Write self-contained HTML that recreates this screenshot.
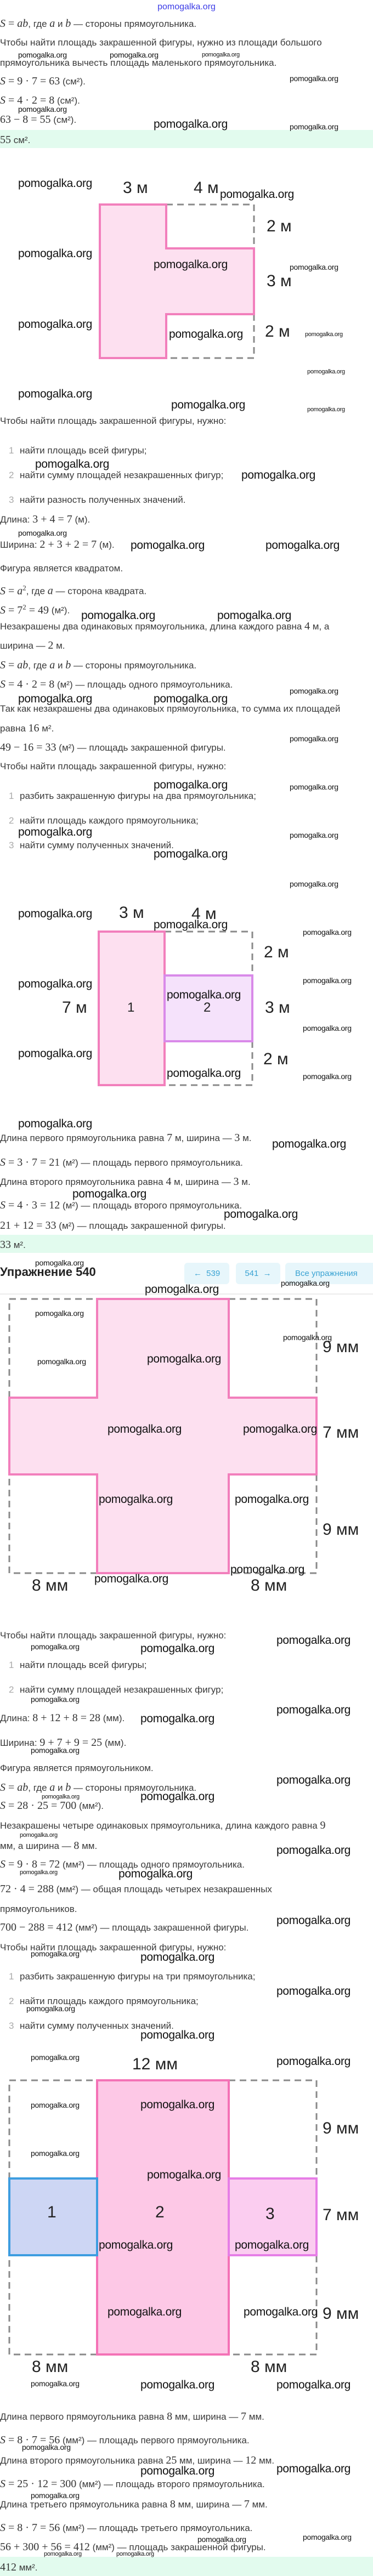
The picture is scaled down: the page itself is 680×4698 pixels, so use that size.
<!DOCTYPE html>
<html><head><meta charset="utf-8"><style>
html,body{margin:0;padding:0;background:#fff}
body{width:680px;height:4698px;position:relative;overflow:hidden;font-family:"Liberation Sans",sans-serif;color:#333}
.t{position:absolute;left:0;white-space:nowrap;font-size:17px;line-height:22px;color:#3a3a3a}
.m{font-family:"Liberation Serif",serif;font-size:20px;color:#333}
.m i{font-style:italic}
.n{display:inline-block;width:36px;padding-left:16px;box-sizing:border-box;color:#aaa}
.b,.s,.y{position:absolute;white-space:nowrap;color:#111;font-family:"Liberation Sans",sans-serif;letter-spacing:-0.3px}
.b{font-size:21px;line-height:26px}
.s{font-size:14px;line-height:18px}
.y{font-size:11px;line-height:14px}
.L{position:absolute;white-space:nowrap;font-size:30px;line-height:36px;color:#222;font-family:"Liberation Sans",sans-serif}
.band{position:absolute;left:0;width:680px;background:#e2fbee}
.btn{position:absolute;top:2303px;height:39px;background:#e7f6fb;border-radius:6px;color:#3aa3d3;font-size:15px;line-height:39px;text-align:center}
svg{position:absolute;left:0;top:0}
</style></head><body>
<svg width="680" height="4698" viewBox="0 0 680 4698">
<g fill="none" stroke="#8a8a8a" stroke-width="3" stroke-dasharray="12 8">
<path d="M303 373H463V453M463 573V653H303"/>
<path d="M300 1699H460V1779M460 1899V1979H300"/>
<rect x="17" y="2369" width="560" height="500"/>
<rect x="17" y="3794" width="560" height="500"/>
</g>
<path d="M182 373H303V453H463V573H303V653H182Z" fill="#fde0f0" stroke="#f27fbc" stroke-width="4"/>
<rect x="180" y="1699" width="120" height="280" fill="#fde0f0" stroke="#f27fbc" stroke-width="4"/>
<rect x="300" y="1779" width="160" height="120" fill="#f5e2fb" stroke="#d98ae9" stroke-width="4"/>
<path d="M177 2369H417V2549H577V2689H417V2869H177V2689H17V2549H177Z" fill="#fde0f0" stroke="#f27fbc" stroke-width="4"/>
<rect x="177" y="3794" width="240" height="500" fill="#fdc8e6" stroke="#f472b6" stroke-width="4"/>
<rect x="17" y="3973" width="160" height="140" fill="#cdd6f4" stroke="#3d9de0" stroke-width="4"/>
<rect x="417" y="3973" width="160" height="140" fill="#fbcdf0" stroke="#e67ee6" stroke-width="4"/>
<line x1="0" y1="2360" x2="680" y2="2360" stroke="#ececec" stroke-width="2"/>
</svg>

<div class="band" style="top:237px;height:33px"></div>
<div class="band" style="top:2252px;height:33px"></div>
<div class="band" style="top:4663px;height:35px"></div>

<div style="position:absolute;top:3px;left:0;width:680px;text-align:center;color:#3b3be6;font-size:16px;line-height:20px">pomogalka.org</div>

<div class="t" style="top:32px"><span class="m"><i>S</i> = <i>ab</i></span>, где <span class="m"><i>a</i></span> и <span class="m"><i>b</i></span> — стороны прямоугольника.</div>
<div class="t" style="top:67px">Чтобы найти площадь закрашенной фигуры, нужно из площади большого</div>
<div class="s" style="top:91px;left:33px">pomogalka.org</div><div class="s" style="top:91px;left:200px">pomogalka.org</div><div class="y" style="top:93px;left:368px">pomogalka.org</div>
<div class="t" style="top:104px">прямоугольника вычесть площадь маленького прямоугольника.</div>
<div class="t" style="top:137px"><span class="m"><i>S</i> = 9 · 7 = 63</span> (см²).</div><div class="s" style="top:134px;left:528px">pomogalka.org</div>
<div class="t" style="top:172px"><span class="m"><i>S</i> = 4 · 2 = 8</span> (см²).</div>
<div class="s" style="top:190px;left:33px">pomogalka.org</div>
<div class="t" style="top:207px"><span class="m">63 − 8 = 55</span> (см²).</div>
<div class="b" style="top:214px;left:280px">pomogalka.org</div><div class="s" style="top:222px;left:528px">pomogalka.org</div>
<div class="t" style="top:244px"><span class="m">55</span> см².</div>

<div class="b" style="top:322px;left:33px">pomogalka.org</div>
<div class="L" style="top:325px;left:224px">3 м</div><div class="L" style="top:325px;left:353px">4 м</div>
<div class="b" style="top:342px;left:401px">pomogalka.org</div>
<div class="L" style="top:395px;left:486px">2 м</div>
<div class="b" style="top:450px;left:33px">pomogalka.org</div>
<div class="b" style="top:470px;left:280px">pomogalka.org</div><div class="s" style="top:478px;left:528px">pomogalka.org</div>
<div class="L" style="top:495px;left:486px">3 м</div>
<div class="b" style="top:579px;left:33px">pomogalka.org</div>
<div class="L" style="top:587px;left:483px">2 м</div>
<div class="b" style="top:597px;left:308px">pomogalka.org</div><div class="y" style="top:603px;left:556px">pomogalka.org</div>
<div class="y" style="top:671px;left:560px">pomogalka.org</div>
<div class="b" style="top:706px;left:33px">pomogalka.org</div>
<div class="b" style="top:726px;left:312px">pomogalka.org</div><div class="y" style="top:740px;left:560px">pomogalka.org</div>
<div class="t" style="top:757px">Чтобы найти площадь закрашенной фигуры, нужно:</div>
<div class="t" style="top:811px"><span class="n">1</span>найти площадь всей фигуры;</div>
<div class="b" style="top:834px;left:64px">pomogalka.org</div>
<div class="t" style="top:856px"><span class="n">2</span>найти сумму площадей незакрашенных фигур;</div><div class="b" style="top:854px;left:440px">pomogalka.org</div>
<div class="t" style="top:901px"><span class="n">3</span>найти разность полученных значений.</div>
<div class="t" style="top:936px">Длина: <span class="m">3 + 4 = 7</span> (м).</div>
<div class="s" style="top:963px;left:33px">pomogalka.org</div>
<div class="t" style="top:982px">Ширина: <span class="m">2 + 3 + 2 = 7</span> (м).</div><div class="b" style="top:982px;left:238px">pomogalka.org</div><div class="b" style="top:982px;left:484px">pomogalka.org</div>
<div class="t" style="top:1026px">Фигура является квадратом.</div>
<div class="t" style="top:1061px"><span class="m"><i>S</i> = <i>a</i><sup style="font-size:13px">2</sup></span>, где <span class="m"><i>a</i></span> — сторона квадрата.</div>
<div class="t" style="top:1096px"><span class="m"><i>S</i> = 7<sup style="font-size:13px">2</sup> = 49</span> (м²).</div>
<div class="b" style="top:1110px;left:148px">pomogalka.org</div><div class="b" style="top:1110px;left:396px">pomogalka.org</div>
<div class="t" style="top:1131px">Незакрашены два одинаковых прямоугольника, длина каждого равна <span class="m">4</span> м, а</div>
<div class="t" style="top:1166px">ширина — <span class="m">2</span> м.</div>
<div class="t" style="top:1202px"><span class="m"><i>S</i> = <i>ab</i></span>, где <span class="m"><i>a</i></span> и <span class="m"><i>b</i></span> — стороны прямоугольника.</div>
<div class="t" style="top:1237px"><span class="m"><i>S</i> = 4 · 2 = 8</span> (м²) — площадь одного прямоугольника.</div>
<div class="s" style="top:1251px;left:528px">pomogalka.org</div>
<div class="b" style="top:1262px;left:33px">pomogalka.org</div><div class="b" style="top:1262px;left:280px">pomogalka.org</div>
<div class="t" style="top:1282px">Так как незакрашены два одинаковых прямоугольника, то сумма их площадей</div>
<div class="t" style="top:1317px">равна <span class="m">16</span> м².</div>
<div class="s" style="top:1338px;left:528px">pomogalka.org</div>
<div class="t" style="top:1352px"><span class="m">49 − 16 = 33</span> (м²) — площадь закрашенной фигуры.</div>
<div class="t" style="top:1387px">Чтобы найти площадь закрашенной фигуры, нужно:</div>
<div class="b" style="top:1419px;left:280px">pomogalka.org</div><div class="s" style="top:1426px;left:528px">pomogalka.org</div>
<div class="t" style="top:1441px"><span class="n">1</span>разбить закрашенную фигуры на два прямоугольника;</div>
<div class="t" style="top:1486px"><span class="n">2</span>найти площадь каждого прямоугольника;</div>
<div class="b" style="top:1505px;left:33px">pomogalka.org</div><div class="s" style="top:1514px;left:528px">pomogalka.org</div>
<div class="t" style="top:1531px"><span class="n">3</span>найти сумму полученных значений.</div>
<div class="b" style="top:1545px;left:280px">pomogalka.org</div>
<div class="s" style="top:1603px;left:528px">pomogalka.org</div>

<div class="L" style="top:1647px;left:217px">3 м</div><div class="L" style="top:1649px;left:349px">4 м</div>
<div class="b" style="top:1654px;left:33px">pomogalka.org</div>
<div class="b" style="top:1674px;left:280px">pomogalka.org</div><div class="s" style="top:1691px;left:552px">pomogalka.org</div>
<div class="L" style="top:1719px;left:481px">2 м</div>
<div class="s" style="top:1779px;left:552px">pomogalka.org</div>
<div class="b" style="top:1782px;left:33px">pomogalka.org</div>
<div class="b" style="top:1802px;left:304px">pomogalka.org</div>
<div class="L" style="top:1820px;left:113px">7 м</div>
<div class="L" style="top:1820px;left:232px;font-size:24px">1</div><div class="L" style="top:1820px;left:371px;font-size:24px">2</div>
<div class="L" style="top:1820px;left:483px">3 м</div>
<div class="s" style="top:1866px;left:552px">pomogalka.org</div>
<div class="b" style="top:1909px;left:33px">pomogalka.org</div>
<div class="L" style="top:1914px;left:480px">2 м</div>
<div class="b" style="top:1945px;left:304px">pomogalka.org</div><div class="s" style="top:1954px;left:552px">pomogalka.org</div>
<div class="b" style="top:2037px;left:33px">pomogalka.org</div>
<div class="t" style="top:2064px">Длина первого прямоугольника равна <span class="m">7</span> м, ширина — <span class="m">3</span> м.</div>
<div class="b" style="top:2074px;left:496px">pomogalka.org</div>
<div class="t" style="top:2109px"><span class="m"><i>S</i> = 3 · 7 = 21</span> (м²) — площадь первого прямоугольника.</div>
<div class="t" style="top:2144px">Длина второго прямоугольника равна <span class="m">4</span> м, ширина — <span class="m">3</span> м.</div>
<div class="b" style="top:2165px;left:132px">pomogalka.org</div>
<div class="t" style="top:2187px"><span class="m"><i>S</i> = 4 · 3 = 12</span> (м²) — площадь второго прямоугольника.</div>
<div class="b" style="top:2202px;left:408px">pomogalka.org</div>
<div class="t" style="top:2224px"><span class="m">21 + 12 = 33</span> (м²) — площадь закрашенной фигуры.</div>
<div class="t" style="top:2259px"><span class="m">33</span> м².</div>
<div class="s" style="top:2294px;left:64px">pomogalka.org</div>

<div style="position:absolute;top:2306px;left:0;font-size:22px;line-height:28px;font-weight:bold;color:#222;white-space:nowrap">Упражнение 540</div>
<div class="btn" style="left:336px;width:82px">←&nbsp; 539</div>
<div class="btn" style="left:430px;width:81px">541 &nbsp;→</div>
<div class="btn" style="left:520px;width:170px;text-align:left;padding-left:18px;box-sizing:border-box">Все упражнения</div>
<div class="s" style="top:2331px;left:512px">pomogalka.org</div>
<div class="b" style="top:2339px;left:264px">pomogalka.org</div>

<div class="s" style="top:2386px;left:64px">pomogalka.org</div>
<div class="s" style="top:2430px;left:516px">pomogalka.org</div>
<div class="L" style="top:2439px;left:588px">9 мм</div>
<div class="b" style="top:2466px;left:268px">pomogalka.org</div><div class="s" style="top:2474px;left:68px">pomogalka.org</div>
<div class="b" style="top:2594px;left:196px">pomogalka.org</div><div class="b" style="top:2594px;left:443px">pomogalka.org</div>
<div class="L" style="top:2595px;left:588px">7 мм</div>
<div class="b" style="top:2722px;left:180px">pomogalka.org</div><div class="b" style="top:2722px;left:428px">pomogalka.org</div>
<div class="L" style="top:2772px;left:588px">9 мм</div>
<div class="b" style="top:2850px;left:420px">pomogalka.org</div><div class="b" style="top:2867px;left:172px">pomogalka.org</div>
<div class="L" style="top:2874px;left:58px">8 мм</div><div class="L" style="top:2874px;left:457px">8 мм</div>

<div class="t" style="top:2972px">Чтобы найти площадь закрашенной фигуры, нужно:</div>
<div class="b" style="top:2979px;left:504px">pomogalka.org</div><div class="s" style="top:2994px;left:56px">pomogalka.org</div><div class="b" style="top:2994px;left:256px">pomogalka.org</div>
<div class="t" style="top:3026px"><span class="n">1</span>найти площадь всей фигуры;</div>
<div class="t" style="top:3071px"><span class="n">2</span>найти сумму площадей незакрашенных фигур;</div>
<div class="s" style="top:3090px;left:56px">pomogalka.org</div>
<div class="b" style="top:3106px;left:504px">pomogalka.org</div>
<div class="t" style="top:3122px">Длина: <span class="m">8 + 12 + 8 = 28</span> (мм).</div><div class="b" style="top:3122px;left:256px">pomogalka.org</div>
<div class="t" style="top:3167px">Ширина: <span class="m">9 + 7 + 9 = 25</span> (мм).</div>
<div class="s" style="top:3183px;left:56px">pomogalka.org</div>
<div class="t" style="top:3214px">Фигура является прямоугольником.</div>
<div class="b" style="top:3234px;left:504px">pomogalka.org</div>
<div class="t" style="top:3249px"><span class="m"><i>S</i> = <i>ab</i></span>, где <span class="m"><i>a</i></span> и <span class="m"><i>b</i></span> — стороны прямоугольника.</div>
<div class="y" style="top:3270px;left:76px">pomogalka.org</div><div class="b" style="top:3264px;left:256px">pomogalka.org</div>
<div class="t" style="top:3282px"><span class="m"><i>S</i> = 28 · 25 = 700</span> (мм²).</div>
<div class="t" style="top:3318px">Незакрашены четыре одинаковых прямоугольника, длина каждого равна <span class="m">9</span></div>
<div class="y" style="top:3340px;left:36px">pomogalka.org</div>
<div class="t" style="top:3355px">мм, а ширина — <span class="m">8</span> мм.</div>
<div class="b" style="top:3362px;left:504px">pomogalka.org</div>
<div class="t" style="top:3389px"><span class="m"><i>S</i> = 9 · 8 = 72</span> (мм²) — площадь одного прямоугольника.</div>
<div class="y" style="top:3408px;left:36px">pomogalka.org</div><div class="b" style="top:3405px;left:216px">pomogalka.org</div>
<div class="t" style="top:3434px"><span class="m">72 · 4 = 288</span> (мм²) — общая площадь четырех незакрашенных</div>
<div class="t" style="top:3471px">прямоугольников.</div>
<div class="b" style="top:3490px;left:504px">pomogalka.org</div>
<div class="t" style="top:3504px"><span class="m">700 − 288 = 412</span> (мм²) — площадь закрашенной фигуры.</div>
<div class="t" style="top:3541px">Чтобы найти площадь закрашенной фигуры, нужно:</div>
<div class="s" style="top:3554px;left:56px">pomogalka.org</div><div class="b" style="top:3557px;left:256px">pomogalka.org</div>
<div class="t" style="top:3594px"><span class="n">1</span>разбить закрашенную фигуры на три прямоугольника;</div>
<div class="b" style="top:3619px;left:504px">pomogalka.org</div>
<div class="t" style="top:3639px"><span class="n">2</span>найти площадь каждого прямоугольника;</div>
<div class="s" style="top:3654px;left:48px">pomogalka.org</div>
<div class="t" style="top:3684px"><span class="n">3</span>найти сумму полученных значений.</div>
<div class="b" style="top:3699px;left:256px">pomogalka.org</div>

<div class="s" style="top:3743px;left:56px">pomogalka.org</div><div class="b" style="top:3747px;left:504px">pomogalka.org</div>
<div class="L" style="top:3747px;left:241px">12 мм</div>
<div class="s" style="top:3830px;left:56px">pomogalka.org</div><div class="b" style="top:3826px;left:256px">pomogalka.org</div>
<div class="L" style="top:3864px;left:588px">9 мм</div>
<div class="s" style="top:3918px;left:56px">pomogalka.org</div>
<div class="b" style="top:3954px;left:268px">pomogalka.org</div>
<div class="L" style="top:4017px;left:86px">1</div><div class="L" style="top:4017px;left:283px">2</div><div class="L" style="top:4020px;left:484px">3</div>
<div class="L" style="top:4022px;left:588px">7 мм</div>
<div class="b" style="top:4082px;left:180px">pomogalka.org</div><div class="b" style="top:4082px;left:428px">pomogalka.org</div>
<div class="b" style="top:4204px;left:196px">pomogalka.org</div><div class="b" style="top:4204px;left:444px">pomogalka.org</div>
<div class="L" style="top:4202px;left:588px">9 мм</div>
<div class="L" style="top:4299px;left:58px">8 мм</div><div class="L" style="top:4299px;left:457px">8 мм</div>
<div class="s" style="top:4338px;left:56px">pomogalka.org</div><div class="b" style="top:4337px;left:256px">pomogalka.org</div><div class="b" style="top:4337px;left:504px">pomogalka.org</div>

<div class="t" style="top:4396px">Длина первого прямоугольника равна <span class="m">8</span> мм, ширина — <span class="m">7</span> мм.</div>
<div class="t" style="top:4439px"><span class="m"><i>S</i> = 8 · 7 = 56</span> (мм²) — площадь первого прямоугольника.</div>
<div class="s" style="top:4454px;left:40px">pomogalka.org</div>
<div class="t" style="top:4476px">Длина второго прямоугольника равна <span class="m">25</span> мм, ширина — <span class="m">12</span> мм.</div>
<div class="b" style="top:4490px;left:504px">pomogalka.org</div><div class="b" style="top:4494px;left:256px">pomogalka.org</div>
<div class="t" style="top:4519px"><span class="m"><i>S</i> = 25 · 12 = 300</span> (мм²) — площадь второго прямоугольника.</div>
<div class="s" style="top:4542px;left:56px">pomogalka.org</div>
<div class="t" style="top:4556px">Длина третьего прямоугольника равна <span class="m">8</span> мм, ширина — <span class="m">7</span> мм.</div>
<div class="t" style="top:4599px"><span class="m"><i>S</i> = 8 · 7 = 56</span> (мм²) — площадь третьего прямоугольника.</div>
<div class="s" style="top:4618px;left:552px">pomogalka.org</div><div class="s" style="top:4622px;left:360px">pomogalka.org</div>
<div class="t" style="top:4634px"><span class="m">56 + 300 + 56 = 412</span> (мм²) — площадь закрашенной фигуры.</div>
<div class="y" style="top:4651px;left:80px">pomogalka.org</div><div class="y" style="top:4651px;left:212px">pomogalka.org</div>
<div class="t" style="top:4671px"><span class="m">412</span> мм².</div>
</body></html>
